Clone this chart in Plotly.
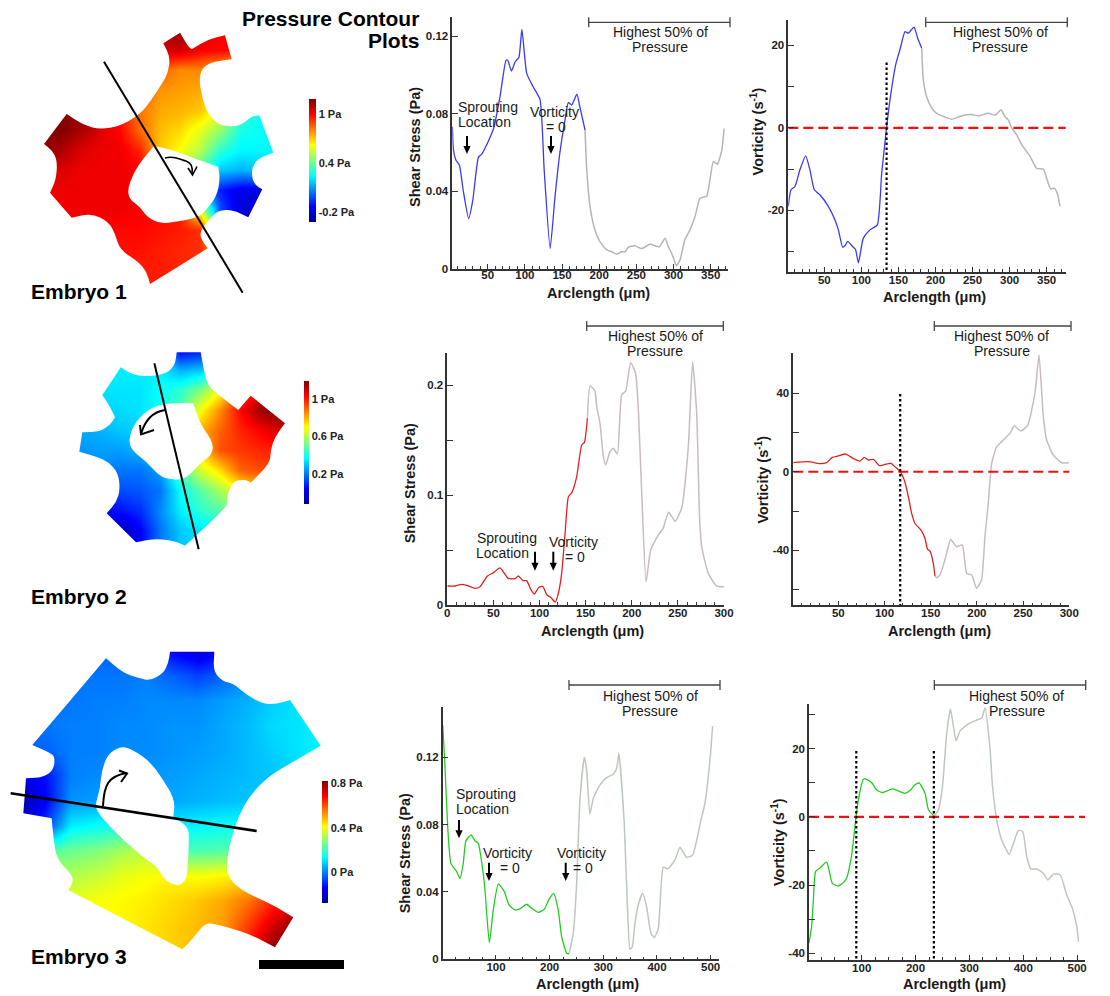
import math
import plotly.graph_objects as go

W, H = 1110, 996

# ---------- Curve data: (arclength um, value) ----------
e1_shear_x = [2.5,4,7.4,12,17,24.4,30,37.5,42,49.5,58,66.6,74.7,77,82,87,92,96,102.5,111,120.4,126,134,140.6,147,154,158.5,163,170,174,181]
e1_shear_y = [.0733,.0613,.056,.0535,.0407,.026,.0355,.0575,.0592,.0647,.0725,.0888,.1076,.1076,.102,.1068,.109,.1234,.1008,.094,.0874,.051,.0106,.0373,.0596,.0767,.0857,.0845,.0901,.0836,.0716]
e1_shear_hi_x = [181,183,187.7,194.4,201,210,217,223.5,230,235,239,248,257,268.4,281,288.6,293,297.5,301,304,308.7,315.5,322,329,335.6,344.6,353.6,359,365,368]
e1_shear_hi_y = [.0716,.0527,.0321,.02,.0141,.0098,.0089,.0076,.0089,.0089,.0112,.012,.0105,.0127,.0115,.0158,.0115,.0081,.0046,.0017,.0046,.0153,.02,.027,.0364,.0376,.0553,.054,.0613,.0724]

e1_vort_x = [1.4,5,10.4,17,24.8,30.6,36.5,44,55.4,64.4,69,74.7,78,81.5,89,92,96,102.6,111.6,121.5,127.4,134,138.6,146.7,152,158.9,163.4,171,176,181.4]
e1_vort_y = [-19,-15,-14.2,-10.2,-6.8,-10.2,-15,-16.2,-19,-22.3,-24.7,-28.9,-28.5,-27.5,-28.9,-29.4,-32.7,-26.7,-24.7,-23.5,-11,0,6.8,15.6,18.9,23.3,22.9,24.4,21.7,19.3]
e1_vort_hi_x = [181.4,183.6,188,195,201.6,213,222,231,240,249,258,271.3,281,288.4,293.8,298.3,302.8,309.6,316.3,327.6,336.5,345.6,350,355.4,360.4,364.9,368]
e1_vort_hi_y = [19.3,11.6,7.6,4.8,3.5,2.6,2.1,2.6,3.1,3.2,2.9,3.5,3.1,4.4,2.7,1.9,0,-1.7,-4.1,-6.9,-9.8,-10,-12.2,-14.8,-14.6,-16.2,-19]

e2_shear_x = [0.1,8.5,15.7,21,30,35.5,43.5,50,57.2,66,73.5,77,82,86,90.5,94.4,99,103.5,108,112,117,120.4,124,127.7,131.3,135,140.3,145.7,148.6,151.9]
e2_shear_y = [.0173,.0173,.0188,.0179,.0152,.0167,.0264,.0294,.0337,.0243,.024,.0264,.0222,.0222,.0143,.01,.0158,.017,.0091,.007,.0027,.0106,.0288,.0652,.0986,.1023,.1168,.1457,.1478,.17]
e2_shear_hi_x = [151.9,154.8,160,162,165.6,169,171.7,176.4,180,184.4,189,193.4,198.8,204,207,210.8,215.5,220.5,228.8,234,240,247,254,261.3,266,270.4,273.5,275.8,283,292,300]
e2_shear_hi_y = [.17,.1994,.1951,.1806,.1654,.1366,.1275,.1396,.1426,.1375,.1912,.1948,.2206,.2115,.1806,.1017,.0212,.05,.0637,.0698,.0844,.0762,.088,.1442,.2215,.1745,.08,.0531,.0288,.0173,.0167]

e2_vort_x = [1.3,17.5,30,37.4,43.5,50,58,66,73.4,78,82.5,88,94.4,100.5,107,111.3,117,122,125.8,129.4,133,139.5,143.8,146.7,149.2,152.8,154.6]
e2_vort_y = [4.6,5.1,4.1,4.6,7.3,8,9,6.8,5.4,7.3,5.9,6.3,3.1,3.7,4.2,2.5,0,-5.1,-12.7,-21.2,-26.3,-29.7,-33.9,-39.5,-40.2,-46.6,-53]
e2_vort_hi_x = [154.6,156.4,160,165.4,171.6,178,184.2,189,194.3,199.7,205,208.7,212.3,216,221.4,226.8,235.8,240.5,247.7,255,262.8,267.2,271.9,275.5,282.7,291.7,299.6]
e2_vort_hi_y = [-53,-53.9,-52.5,-44.9,-34.4,-38.1,-37.3,-51.7,-52.5,-59.3,-55,-33,-16,4.2,12.7,15.3,19.5,23.2,20.7,23.7,39.8,59.3,28,16.1,8.5,4.6,4.6]

e3_shear_x = [0.8,5,10,16,26.7,33,39,44,53.4,61,67,74.5,79.5,87.6,95,104.3,115.5,124.2,135.4,144.7,157,166.5,179,190,198.8,207.5,216,222.4,231.7,236]
e3_shear_y = [.1392,.1145,.0788,.057,.0521,.0481,.057,.0705,.0739,.0703,.0689,.055,.0412,.0099,.0293,.0448,.0402,.0323,.0293,.0299,.0327,.0303,.0279,.0297,.0356,.0392,.0293,.0135,.0036,.0032]
e3_shear_hi_x = [236,244,250.3,256.5,264.6,269,275,281.4,293.8,306,318.6,325,329,339,344.7,349.7,354,359,365,373.3,380.7,388.8,395,402.5,411.8,420,433.5,442.9,455.3,466.5,482,489.4,498.8,503.7]
e3_shear_hi_y = [.0032,.0154,.0451,.0947,.12,.1125,.0863,.0956,.1036,.1079,.1099,.1135,.1224,.0808,.0333,.0059,.0075,.0214,.0323,.0392,.0313,.0154,.0129,.0184,.0547,.0537,.059,.0665,.0606,.062,.0828,.0927,.1184,.1386]

e3_vort_x = [2.2,7,10,14.5,22.6,35,45.5,55.4,66,72,81.4,89.5,95,103,109.3,118.6,128,138.4,157,180.5,189.8,199,207,217.6,224,234.4]
e3_vort_y = [-37,-32.2,-25.3,-16,-15,-13.3,-19.5,-20.3,-19.3,-18,-11.2,0,6,11,11,10,7.9,7.1,8.2,6.9,7.7,9.4,9.9,6.9,2,0.2]
e3_vort_hi_x = [234.4,242.4,250,258,264.7,270,275,282.7,298,313.6,323,329,338.4,342.7,350.8,360,373.7,381.7,391,399,406.5,414,425,437.5,445.5,456,468.4,480.8,491.3,499.4,502.5]
e3_vort_hi_y = [0.2,2,8.9,24.6,31.6,27,22.3,25.2,27.3,28.4,29,31.9,19.7,9.4,-0.9,-6.8,-11,-7.8,-4,-4.3,-11.7,-15.3,-15.3,-16.6,-18.5,-16.8,-17,-22.9,-26.9,-32.2,-36.7]

# Ticks: labelled major ticks and unlabelled in-between ticks
shear1_ticks = [0, .04, .08, .12]
shear1_text = ["0", "0.04", "0.08", "0.12"]
shear1_minor = []
vort1_ticks = [-20, 0, 20]
vort1_text = ["-20", "0", "20"]
vort1_minor = [-30, -10, 10]
shear2_ticks = [0, .1, .2]
shear2_text = ["0", "0.1", "0.2"]
shear2_minor = [.05, .15]
vort2_ticks = [-40, 0, 40]
vort2_text = ["-40", "0", "40"]
vort2_minor = [-60, -20, 20]
shear3_ticks = [0, .04, .08, .12]
shear3_text = ["0", "0.04", "0.08", "0.12"]
shear3_minor = []
vort3_ticks = [-40, -20, 0, 20]
vort3_text = ["-40", "-20", "0", "20"]
vort3_minor = [-30, -10, 10, 30]

# ---------- Pressure maps, read as % of the jet colour scale (sampled on 3x crop px) ----------
p1_cols = [120,180,240,300,360,420,480,540,600,660,720,780,840]
p1_rows = [90,150,210,270,330,390,450,510,570,630,690,750,810,870]
p1_z = [
 [92,92,92,92,92,92,96,98,92,88,88,80,80],
 [92,92,92,92,92,90,92,92,88,87,87,75,60],
 [92,92,92,92,90,85,78,74,74,70,60,50,40],
 [96,96,94,92,88,80,73,72,71,65,50,40,37],
 [100,100,98,91,85,76,71,70,68,60,45,38,37],
 [100,100,96,91,87,77,69,66,60,52,40,38,37],
 [98,96,91,89,89,84,68,62,55,42,37,37,37],
 [92,91,89,89,89,88,70,55,45,32,30,32,35],
 [90,89,89,89,89,89,85,60,30,15,10,10,10],
 [89,89,89,89,89,88,87,85,60,20,8,5,5],
 [89,88,88,88,87,87,86,85,83,50,8,5,5],
 [88,87,87,87,86,86,85,84,83,70,20,5,5],
 [87,87,86,86,85,85,85,84,83,70,20,5,5],
 [87,87,86,86,85,85,85,84,83,70,20,5,5],
]
p2_cols = [240,300,360,420,480,540,600,660,720,780,840,900]
p2_rows = [60,120,180,240,300,360,420,480,540,600,660]
p2_z = [
 [36,36,36,36,34,12,14,20,30,50,60,60],
 [36,36,36,36,36,30,32,40,50,70,80,85],
 [34,35,35,35,38,42,50,62,80,88,92,95],
 [32,33,34,35,38,45,62,74,87,97,100,98],
 [29,30,32,33,36,50,70,78,84,88,92,92],
 [27,28,28,30,34,50,66,80,82,84,85,85],
 [26,26,24,24,28,45,58,66,78,80,80,80],
 [20,20,20,21,24,38,46,54,62,70,70,70],
 [12,13,14,17,26,36,42,46,50,55,55,55],
 [3,3,4,12,24,32,35,40,45,50,50,50],
 [2,2,2,12,24,32,34,38,42,48,48,48],
]
p3_cols = [60,136,212,288,364,440,516,592,668,744,820,896,972]
p3_rows = [30,105,180,255,330,405,480,555,630,705,780,855,930]
p3_z = [
 [22,22,22,22,22,22,12,8,12,22,26,28,30],
 [23,24,24,24,24,25,22,19,22,26,29,32,34],
 [24,24,24,25,25,26,26,26,28,30,33,35,37],
 [24,24,25,25,26,26,27,27,29,31,34,35,37],
 [22,22,25,25,26,26,27,28,29,31,33,35,37],
 [10,14,25,26,26,27,28,29,30,31,32,34,36],
 [3,12,27,28,28,28,29,30,31,32,32,32,32],
 [4,18,36,38,40,42,36,37,38,38,38,38,38],
 [45,46,48,50,54,56,45,45,46,46,46,46,46],
 [55,55,55,57,60,62,63,62,63,66,68,70,70],
 [58,58,60,62,63,64,66,68,71,76,84,88,90],
 [60,60,60,62,63,65,67,69,72,82,92,100,100],
 [60,60,60,62,63,65,67,69,74,86,100,100,100],
]

# Embryo outlines (3x crop px)
p1_outer = [(490,130),(540,98),(565,140),(575,148),(625,118),(675,106),(695,178),(640,185),(610,200),(597,230),(605,290),(625,345),(660,378),(720,380),(755,348),(778,346),(820,458),(775,475),(757,500),(755,530),(765,555),(787,568),(745,652),(700,630),(660,630),(640,645),(610,680),(600,700),(605,720),(623,745),(450,852),(440,815),(415,785),(360,750),(345,700),(325,665),(275,640),(215,653),(150,578),(168,540),(172,480),(155,450),(132,432),(200,342),(250,375),(300,388),(360,378),(412,348),(440,320),(490,245),(505,215),(510,170)]
p1_hole = [(462,438),(520,450),(590,478),(655,500),(660,540),(650,590),(610,640),(585,655),(530,665),(480,672),(440,650),(420,620),(390,600),(382,570),(400,520),(430,475)]
p2_outer = [(530,67),(602,67),(610,110),(622,165),(650,190),(715,240),(752,197),(855,280),(825,320),(812,360),(810,400),(752,458),(740,450),(710,450),(690,470),(680,510),(682,530),(555,647),(530,635),(470,625),(408,637),(320,550),(350,515),(360,480),(355,430),(325,395),(290,380),(238,365),(247,307),(300,305),(330,285),(345,262),(330,230),(307,195),(362,112),(400,135),(450,140),(500,130),(525,105)]
p2_hole = [(490,220),(580,220),(600,280),(625,315),(640,345),(635,375),(600,400),(560,445),(520,450),(480,440),(440,395),(400,365),(385,335),(400,285),(440,240)]
p3_outer = [(318,55),(370,100),(420,115),(450,122),(490,100),(505,70),(510,35),(643,35),(640,95),(670,125),(700,130),(740,165),(790,192),(830,192),(870,180),(962,317),(890,360),(810,405),(750,465),(715,530),(695,590),(682,650),(680,705),(720,750),(820,795),(880,832),(825,922),(750,882),(635,848),(610,855),(575,900),(547,928),(205,750),(218,730),(218,705),(170,660),(160,590),(155,535),(70,520),(78,415),(130,412),(160,390),(165,355),(155,340),(97,315)]
p3_hole = [(365,318),(400,330),(450,365),(490,420),(525,480),(520,530),(565,560),(567,600),(562,700),(555,725),(535,737),(510,730),(490,715),(472,680),(440,660),(370,600),(330,560),(295,520),(285,495),(300,450),(305,390),(325,340)]

JET = [[0,'#00008f'],[.125,'#0000ff'],[.375,'#00ffff'],[.625,'#ffff00'],[.875,'#ff0000'],[1,'#800000']]
FONT = "Liberation Sans"
AXC = "#333333"
BLUE, RED, GREEN = "#3a3aee", "#e02020", "#22cc22"
GRAY1, GRAY2, GRAY3 = "#b4b4bc", "#c8bcbc", "#bcc8bc"

fig = go.Figure()
shapes, annos = [], []

# ---------- Chart panels ----------
panels = [
 dict(l=452.3,r=728.3,t=16.7,b=269,xr=[2.4,373.7],yr=[0,.13],tv=shear1_ticks,tt=shear1_text,tm=shear1_minor,xd=50,xm=10,so=-6,
      c=BLUE,g=GRAY1,a=(e1_shear_x,e1_shear_y),h=(e1_shear_hi_x,e1_shear_hi_y)),
 dict(l=788.3,r=1065.7,t=20,b=272,xr=[1.4,375.7],yr=[-34.9,26.1],tv=vort1_ticks,tt=vort1_text,tm=vort1_minor,xd=50,xm=10,so=-4,
      c=BLUE,g=GRAY1,a=(e1_vort_x,e1_vort_y),h=(e1_vort_hi_x,e1_vort_hi_y)),
 dict(l=447.3,r=724,t=352.7,b=605,xr=[0,300],yr=[0,.2297],tv=shear2_ticks,tt=shear2_text,tm=shear2_minor,xd=50,xm=10,so=-4,
      c=RED,g=GRAY2,a=(e2_shear_x,e2_shear_y),h=(e2_shear_hi_x,e2_shear_hi_y)),
 dict(l=793.3,r=1069.3,t=353.3,b=605.3,xr=[1.3,300],yr=[-67.9,60.2],tv=vort2_ticks,tt=vort2_text,tm=vort2_minor,xd=50,xm=10,so=-4,
      c=RED,g=GRAY2,a=(e2_vort_x,e2_vort_y),h=(e2_vort_hi_x,e2_vort_hi_y)),
 dict(l=442.7,r=719,t=707.3,b=959.3,xr=[0.7,515.6],yr=[0,.1497],tv=shear3_ticks,tt=shear3_text,tm=shear3_minor,xd=100,xm=25,so=-4,
      c=GREEN,g=GRAY3,a=(e3_shear_x,e3_shear_y),h=(e3_shear_hi_x,e3_shear_hi_y)),
 dict(l=809,r=1085,t=704,b=960,xr=[2.2,514.6],yr=[-42,33.1],tv=vort3_ticks,tt=vort3_text,tm=vort3_minor,xd=100,xm=25,so=-4,
      c=GREEN,g=GRAY3,a=(e3_vort_x,e3_vort_y),h=(e3_vort_hi_x,e3_vort_hi_y)),
]

layout_axes = {}
for i, p in enumerate(panels, 1):
    xn, yn = f"x{i}", f"y{i}"
    layout_axes[f"xaxis{i}"] = dict(
        domain=[p['l']/W, p['r']/W], range=p['xr'], anchor=yn, showgrid=False, zeroline=False,
        showline=True, linecolor=AXC, linewidth=1.5, ticks="inside", ticklen=5, tickwidth=1.2, tickcolor=AXC,
        tick0=0, dtick=p['xd'], minor=dict(ticks="inside", dtick=p['xm'], tick0=0, ticklen=3, tickcolor=AXC, tickwidth=1),
        tickfont=dict(family=FONT, size=11.5, color="#222222", weight=700), ticklabelstandoff=p['so'])
    layout_axes[f"yaxis{i}"] = dict(
        domain=[1-p['b']/H, 1-p['t']/H], range=p['yr'], anchor=xn, showgrid=False, zeroline=False,
        showline=True, linecolor=AXC, linewidth=1.5, ticks="inside", ticklen=6, tickwidth=1.2, tickcolor=AXC,
        tickmode="array", tickvals=p['tv'], ticktext=p['tt'],
        minor=dict(ticks="inside", tickmode="array", tickvals=p['tm'], ticklen=6, tickcolor=AXC, tickwidth=1.2),
        tickfont=dict(family=FONT, size=11.5, color="#222222", weight=700), ticklabelstandoff=0)
    fig.add_trace(go.Scatter(x=p['h'][0], y=p['h'][1], mode="lines", xaxis=xn, yaxis=yn,
                             line=dict(color=p['g'], width=1.5, shape="spline", smoothing=0.5), showlegend=False))
    fig.add_trace(go.Scatter(x=p['a'][0], y=p['a'][1], mode="lines", xaxis=xn, yaxis=yn,
                             line=dict(color=p['c'], width=1.3, shape="spline", smoothing=0.5), showlegend=False))

# Zero-vorticity reference lines
zero_lines = [(2, 1.4, 401.8), (4, 1.3, 309), (6, 2.2, 533)]
for i, a, b in zero_lines:
    fig.add_trace(go.Scatter(x=[a, b], y=[0, 0], mode="lines", xaxis=f"x{i}", yaxis=f"y{i}", cliponaxis=False,
                             line=dict(color="#ee1111", width=2.2, dash="10px,5px"), showlegend=False))
# Dotted lines at vorticity = 0
dotted = [(2, 134, 15.8, -34.9), (4, 117, 39.5, -67.9), (6, 90, 19.3, -42), (6, 234, 19.3, -42)]
for i, xv, top, bot in dotted:
    fig.add_trace(go.Scatter(x=[xv, xv], y=[top, bot], mode="lines", xaxis=f"x{i}", yaxis=f"y{i}",
                             line=dict(color="black", width=2.2, dash="2.5px,2.5px"), showlegend=False))

# ---------- Pressure maps ----------
def ring(pts, oy):
    """Closed outline: gentle bends are rounded, sharp corners stay sharp."""
    P = [(px/3, py/3+oy) for px, py in pts]
    n = len(P)
    mid = lambda a, b: ((a[0]+b[0])/2, (a[1]+b[1])/2)
    s = mid(P[-1], P[0])
    out = [f"M{s[0]:.1f},{s[1]:.1f}"]
    for i in range(n):
        a, b, c = P[i-1], P[i], P[(i+1) % n]
        t1 = math.atan2(b[1]-a[1], b[0]-a[0])
        t2 = math.atan2(c[1]-b[1], c[0]-b[0])
        turn = abs((t2-t1+math.pi) % (2*math.pi) - math.pi)
        m = mid(b, c)
        if turn < math.radians(55):
            out.append(f"Q{b[0]:.1f},{b[1]:.1f} {m[0]:.1f},{m[1]:.1f}")
        else:
            out.append(f"L{b[0]:.1f},{b[1]:.1f} L{m[0]:.1f},{m[1]:.1f}")
    return " ".join(out) + " Z"

def add_map(cols, rows, z, oy, outer, hole, bar, ticks):
    xs = [c/3 for c in cols]
    ys = [r/3+oy for r in rows]
    x0, x1, t, b = bar
    tv, tt = ticks
    fig.add_trace(go.Heatmap(x=xs, y=ys, z=z, xaxis="x7", yaxis="y7", zmin=0, zmax=100, zsmooth="best",
        colorscale=JET, hoverinfo="skip",
        colorbar=dict(x=x0/W, xanchor="left", y=1-t/H, yanchor="top", thickness=x1-x0, thicknessmode="pixels",
                      len=b-t, lenmode="pixels", xpad=0, ypad=0, outlinewidth=0, borderwidth=0, ticks="",
                      tickmode="array", tickvals=tv, ticktext=tt, ticklabelposition="outside",
                      tickfont=dict(family=FONT, size=11, color="#222222", weight=700))))
    dx = (xs[1]-xs[0])/2 + 3
    dy = (ys[1]-ys[0])/2 + 3
    rect = f"M{xs[0]-dx:.1f},{ys[0]-dy:.1f} L{xs[-1]+dx:.1f},{ys[0]-dy:.1f} L{xs[-1]+dx:.1f},{ys[-1]+dy:.1f} L{xs[0]-dx:.1f},{ys[-1]+dy:.1f} Z"
    shapes.append(dict(type="path", xref="x7", yref="y7", layer="above", path=rect+" "+ring(outer, oy)+" "+ring(hole, oy),
                       fillcolor="white", fillrule="evenodd", line=dict(width=0)))

add_map(p1_cols, p1_rows, p1_z, 0, p1_outer, p1_hole, (309,316,99,222), ([8,48,87.7], ["-0.2 Pa","0.4 Pa","1 Pa"]))
add_map(p2_cols, p2_rows, p2_z, 330, p2_outer, p2_hole, (304,309,381,504), ([24.6,55,85], ["0.2 Pa","0.6 Pa","1 Pa"]))
add_map(p3_cols, p3_rows, p3_z, 640, p3_outer, p3_hole, (322,328,781,903), ([25,61,98], ["0 Pa","0.4 Pa","0.8 Pa"]))

def seg(x0, y0, x1, y1, color="black", width=2):
    shapes.append(dict(type="line", xref="x7", yref="y7", layer="above", x0=x0, y0=y0, x1=x1, y1=y1,
                       line=dict(color=color, width=width)))
def curve(path, width=1.6):
    shapes.append(dict(type="path", xref="x7", yref="y7", layer="above", path=path,
                       line=dict(color="black", width=width), fillcolor="rgba(0,0,0,0)"))

# Section lines
seg(312/3, 185/3, 728/3, 878/3, width=2)
seg(463/3, 330+100/3, 596/3, 330+658/3, width=2)
seg(32/3, 640+460/3, 770/3, 640+573/3, width=2.6)

# Flow arrows
curve("M165,158 C175,155 180,160 186,161 C192,163 193,168 192,174")
curve("M188,168 L192.5,175 L197,166.5")
curve("M165,410 C152,412 145,420 141,434", width=2)
curve("M140,425 L141,434.5 L154,430", width=2)
curve("M103,806 C104,785 108,776 127,773", width=2)
curve("M119,770.5 L127,773.5 L121,782", width=2)

# Scale bar
shapes.append(dict(type="rect", xref="x7", yref="y7", layer="above", x0=259, x1=344, y0=960, y1=969,
                   fillcolor="black", line=dict(width=0)))

# ---------- Text ----------
def txt(x, y, s, size=14, bold=False, anchor="center", angle=0, color="#1a1a1a"):
    annos.append(dict(x=x, y=y, xref="x7", yref="y7", text=s, showarrow=False, xanchor=anchor, yanchor="middle",
                      textangle=angle, font=dict(family=FONT, size=size, color=color, weight=700 if bold else 400)))
def down_arrow(x, y0, y1):
    seg(x, y0, x, y1-6, width=2)
    shapes.append(dict(type="path", xref="x7", yref="y7", layer="above",
                       path=f"M{x-3.6},{y1-8} L{x+3.6},{y1-8} L{x},{y1} Z", fillcolor="black", line=dict(width=0)))

txt(421, 18, "Pressure Contour", size=21, bold=True, anchor="right", color="black")
txt(421, 40, "Plots", size=21, bold=True, anchor="right", color="black")
txt(29, 291, "Embryo 1", size=21, bold=True, anchor="left", color="black")
txt(29, 596, "Embryo 2", size=21, bold=True, anchor="left", color="black")
txt(29, 956, "Embryo 3", size=21, bold=True, anchor="left", color="black")

x_titles = [(598,293),(934,296.7),(592.7,630.7),(939,630.7),(587.7,984),(954,984)]
for x, y in x_titles:
    txt(x, y, "Arclength (μm)", size=14.5, bold=True)
y_titles = [(414.3,146.7,"Shear Stress (Pa)"),(756.7,131.7,"Vorticity (s<sup>-1</sup>)"),
            (410,483.3,"Shear Stress (Pa)"),(762.3,479.3,"Vorticity (s<sup>-1</sup>)"),
            (405,853.3,"Shear Stress (Pa)"),(777.3,841.7,"Vorticity (s<sup>-1</sup>)")]
for x, y, s in y_titles:
    txt(x, y, s, size=14.5, bold=True, angle=-90)

brackets = [(588.7,730,22.3,660,32,46.6),(925.7,1067.3,22.3,1000,32,46.6),
            (586.7,723.3,326,655,336,350.7),(934.3,1071,326,1001.7,336,350.7),
            (569,720,685,650,696.4,711),(934.3,1085.7,685,1016.7,696.4,711)]
for a, b, y, cx, y1, y2 in brackets:
    seg(a, y, b, y, color="#444444", width=1.3)
    seg(a, y-5, a, y+5, color="#444444", width=1.3)
    seg(b, y-5, b, y+5, color="#444444", width=1.3)
    txt(cx, y1, "Highest 50% of")
    txt(cx, y2, "Pressure")

notes = [(487.7,107.4,"Sprouting"),(484.3,122,"Location"),(554,112,"Vorticity"),(556,126.7,"= 0"),
         (506.7,538.3,"Sprouting"),(502.7,552.7,"Location"),(573.3,542.3,"Vorticity"),(575,556.7,"= 0"),
         (485.7,794,"Sprouting"),(482.3,808.6,"Location"),(507.7,853,"Vorticity"),(510,867.6,"= 0"),
         (581,853,"Vorticity"),(583.3,867.6,"= 0")]
for x, y, s in notes:
    txt(x, y, s)
arrows = [(467,136,154),(551,136,154),(535,551.7,570.7),(553.3,551.7,570.7),
          (459,820,838.3),(489,862.7,881),(565.7,862.7,881)]
for x, a, b in arrows:
    down_arrow(x, a, b)

layout_axes["xaxis7"] = dict(domain=[0,1], range=[0,W], visible=False, anchor="y7")
layout_axes["yaxis7"] = dict(domain=[0,1], range=[H,0], visible=False, anchor="x7")

fig.update_layout(width=W, height=H, margin=dict(l=0,r=0,t=0,b=0,autoexpand=False), paper_bgcolor="white", plot_bgcolor="rgba(0,0,0,0)",
                  showlegend=False, shapes=shapes, annotations=annos, font=dict(family=FONT), **layout_axes)
fig.write_html("out.html", config=dict(displayModeBar=False),
               post_script="document.body.style.margin='0';document.body.style.overflow='hidden';")
